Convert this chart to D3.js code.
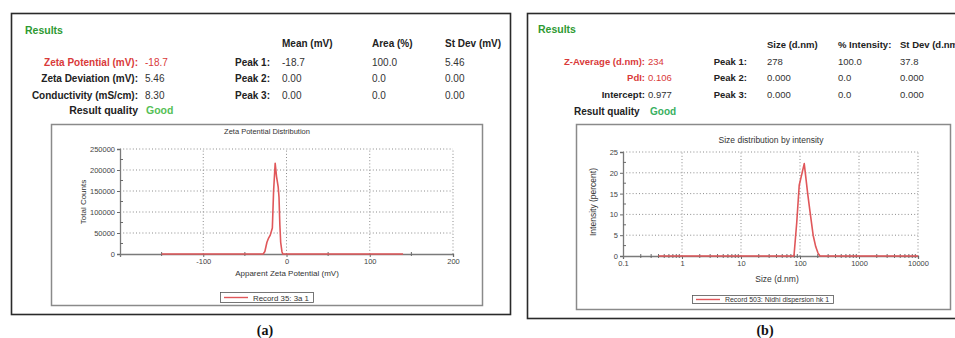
<!DOCTYPE html>
<html>
<head>
<meta charset="utf-8">
<script src="https://cdn.jsdelivr.net/npm/d3@7"></script>
<style>
  body { margin: 0; background: #fff; }
  svg { display: block; font-family: Arial, "Liberation Sans", sans-serif; }
</style>
</head>
<body>
<svg id="fig" width="955" height="338"></svg>
<script>
// zeta potential distribution (panel a)
const zetaMv = [-150, -28, -26, -23.5, -21.5, -19.5, -17, -15.5, -13.6, -12, -10, -9, -8, -7, -5.5, -4.5, 140];
const zetaCounts = [0, 0, 6000, 28000, 38000, 45000, 62000, 150000, 216000, 185000, 160000, 135000, 70000, 28000, 6000, 0, 0];
const zetaTicksX = [-100, 0, 100, 200];
const zetaMinorX = [-150, -50, 50, 150];
const zetaTicksY = [0, 50000, 100000, 150000, 200000, 250000];
const zetaMinorY = [25000, 75000, 125000, 175000, 225000];

// size distribution by intensity (panel b)
const sizeNm = [0.4, 79, 88, 97, 118, 135, 148, 167, 185, 202, 218, 10000];
const sizeIntensity = [0, 0, 8, 17, 22.2, 15, 10.6, 5, 2.2, 0.7, 0, 0];
const sizeTicksX = [0.1, 1, 10, 100, 1000, 10000];
const sizeTicksY = [0, 5, 10, 15, 20, 25];
const sizeMinorY = [2.5, 7.5, 12.5, 17.5, 22.5];

// result tables
const zetaLabels = ["Zeta Potential (mV):", "Zeta Deviation (mV):", "Conductivity (mS/cm):"];
const zetaValues = ["-18.7", "5.46", "8.30"];
const zetaPeakHead = ["Mean (mV)", "Area (%)", "St Dev (mV)"];
const zetaPeaks = [["-18.7", "100.0", "5.46"], ["0.00", "0.0", "0.00"], ["0.00", "0.0", "0.00"]];
const sizeLabels = ["Z-Average (d.nm):", "PdI:", "Intercept:"];
const sizeValues = ["234", "0.106", "0.977"];
const sizePeakHead = ["Size (d.nm)", "% Intensity:", "St Dev (d.nm)"];
const sizePeaks = [["278", "100.0", "37.8"], ["0.000", "0.0", "0.000"], ["0.000", "0.0", "0.000"]];
const peakNames = ["Peak 1:", "Peak 2:", "Peak 3:"];

const svg = d3.select("#fig");
const RED = "#d93a3a", GREEN = "#2e9a32", GOOD = "#55c055", LINE = "#e0575a";

// outer frames
svg.append("rect").attr("x", 11.5).attr("y", 13.5).attr("width", 499).attr("height", 301)
  .attr("fill", "none").attr("stroke", "#2a2a2a").attr("stroke-width", 1.6);
svg.append("rect").attr("x", 527.5).attr("y", 13.5).attr("width", 440).attr("height", 305)
  .attr("fill", "none").attr("stroke", "#2a2a2a").attr("stroke-width", 1.6);

function txt(g, x, y, s, o = {}) {
  return g.append("text").attr("x", x).attr("y", y).text(s)
    .attr("font-size", o.size || 10)
    .attr("font-weight", o.bold ? "bold" : "normal")
    .attr("fill", o.fill || "#222")
    .attr("text-anchor", o.anchor || "start");
}

function table(o) {
  const g = svg.append("g");
  txt(g, o.resX, o.resY, "Results", { bold: true, fill: GREEN, size: 10.5 });
  o.head.forEach((h, i) => txt(g, o.cols[i], o.headY, h, { bold: true, size: o.fs }));
  o.labels.forEach((l, i) => {
    const c = o.red.includes(i) ? RED : "#222";
    txt(g, o.labX, o.rowY[i], l, { bold: true, anchor: "end", fill: c, size: o.fs });
    txt(g, o.valX, o.rowY[i], o.values[i], { fill: o.red.includes(i) ? RED : "#333", size: o.fs });
    txt(g, o.peakX, o.rowY[i], peakNames[i], { bold: true, anchor: "end", size: o.fs });
    o.peaks[i].forEach((v, j) => txt(g, o.cols[j], o.rowY[i], v, { fill: "#333", size: o.fs }));
  });
  txt(g, o.rqX, o.rqY, "Result quality", { bold: true, anchor: o.rqAnchor, size: o.fs + 0.5 });
  txt(g, o.goodX, o.rqY, "Good", { bold: true, fill: o.goodFill, size: o.fs + 0.5 });
}

table({
  resX: 25, resY: 34, headY: 47, cols: [282, 372, 445], head: zetaPeakHead,
  labels: zetaLabels, values: zetaValues, peaks: zetaPeaks, red: [0],
  labX: 138, valX: 145, peakX: 270, rowY: [66, 82, 99], fs: 10,
  rqX: 138, rqY: 114, rqAnchor: "end", goodX: 146, goodFill: GOOD
});
table({
  resX: 538, resY: 33, headY: 48, cols: [767, 838, 900], head: sizePeakHead,
  labels: sizeLabels, values: sizeValues, peaks: sizePeaks, red: [0, 1],
  labX: 645, valX: 648, peakX: 747, rowY: [65, 81, 98], fs: 9.5,
  rqX: 574, rqY: 115, rqAnchor: "start", goodX: 650, goodFill: "#38b060"
});

// chart panel
function chart(o) {
  const g = svg.append("g");
  g.append("rect").attr("x", o.box[0] + 0.5).attr("y", o.box[1] + 0.5)
    .attr("width", o.box[2] - o.box[0]).attr("height", o.box[3] - o.box[1])
    .attr("fill", "#fff").attr("stroke", "#8a8a8a").attr("stroke-width", 1.5);
  txt(g, o.titleX, o.titleY, o.title, { size: o.titleSize, anchor: "middle", fill: "#333" });

  const x = o.x, y = o.y;
  const [x0, x1] = x.range(), [y0, y1] = y.range();

  // dotted grid
  const grid = g.append("g").attr("stroke", "#8c8c8c").attr("stroke-dasharray", "1,2.2").attr("stroke-width", 1);
  o.gridX.forEach(v => grid.append("line").attr("x1", x(v)).attr("x2", x(v)).attr("y1", y0).attr("y2", y1));
  o.ticksY.filter(v => v > 0).forEach(v => grid.append("line").attr("x1", x0).attr("x2", x1).attr("y1", y(v)).attr("y2", y(v)));

  // axes
  const ax = g.append("g").attr("transform", `translate(0,${y0})`)
    .call(d3.axisBottom(x).tickValues(o.ticksX).tickSize(3).tickFormat(o.fmtX).tickPadding(2));
  const ay = g.append("g").attr("transform", `translate(${x0},0)`)
    .call(d3.axisLeft(y).tickValues(o.ticksY).tickSize(3).tickFormat(d => d).tickPadding(2));
  [ax, ay].forEach(a => {
    a.select(".domain").attr("stroke", "#7a7a7a").attr("stroke-width", 1.3);
    a.selectAll(".tick line").attr("stroke", "#6a6a6a");
    a.selectAll("text").attr("font-size", o.tickSize).attr("fill", "#444").attr("font-family", null);
  });
  const minor = g.append("g").attr("stroke", "#6a6a6a");
  o.minorX.forEach(v => minor.append("line").attr("x1", x(v)).attr("x2", x(v)).attr("y1", y0 - 2).attr("y2", y0 + 2));
  o.minorY.forEach(v => minor.append("line").attr("x1", x0).attr("x2", x0 + 3).attr("y1", y(v)).attr("y2", y(v)));

  // data line
  g.append("path").datum(o.xs.map((v, i) => [v, o.ys[i]]))
    .attr("d", d3.line().x(d => x(d[0])).y(d => y(d[1])))
    .attr("fill", "none").attr("stroke", LINE).attr("stroke-width", 1.6).attr("stroke-linejoin", "round");

  txt(g, o.xTitle[1], o.xTitle[2], o.xTitle[0], { size: o.labSize, anchor: "middle", fill: "#333" });
  txt(g, 0, 0, o.yTitle[0], { size: o.labSize, anchor: "middle", fill: "#333" })
    .attr("transform", `translate(${o.yTitle[1]},${o.yTitle[2]}) rotate(-90)`);

  // legend
  const [lx0, ly0, lx1, ly1] = o.leg;
  g.append("rect").attr("x", lx0 + 0.5).attr("y", ly0 + 0.5).attr("width", lx1 - lx0).attr("height", ly1 - ly0)
    .attr("fill", "#fff").attr("stroke", "#555").attr("stroke-width", 0.8);
  g.append("line").attr("x1", lx0 + 4).attr("x2", lx0 + 28).attr("y1", (ly0 + ly1) / 2 + 0.5).attr("y2", (ly0 + ly1) / 2 + 0.5)
    .attr("stroke", LINE).attr("stroke-width", 1.4);
  txt(g, lx0 + 33, ly1 - 1.5, o.legText, { size: o.legSize, fill: "#333" })
    .attr("textLength", lx1 - lx0 - 37).attr("lengthAdjust", "spacingAndGlyphs");
}

chart({
  box: [51, 124, 482, 305], title: "Zeta Potential Distribution", titleX: 267, titleY: 134, titleSize: 7.5,
  x: d3.scaleLinear().domain([-200, 200]).range([120, 453]),
  y: d3.scaleLinear().domain([0, 250000]).range([254, 149]),
  gridX: zetaTicksX, ticksX: zetaTicksX, ticksY: zetaTicksY, minorX: zetaMinorX, minorY: zetaMinorY,
  fmtX: d => d, tickSize: 7.5, labSize: 8,
  xs: zetaMv, ys: zetaCounts,
  xTitle: ["Apparent Zeta Potential (mV)", 287, 276], yTitle: ["Total Counts", 86, 202],
  leg: [220, 292, 313, 302], legText: "Record 35: 3a 1", legSize: 7.5
});

const logMinor = [];
sizeTicksX.slice(0, -1).forEach(d => { for (let k = 2; k <= 9; k++) logMinor.push(d * k); });

chart({
  box: [576, 124, 950, 309], title: "Size distribution by intensity", titleX: 771, titleY: 143, titleSize: 8.5,
  x: d3.scaleLog().domain([0.1, 10000]).range([623, 918]),
  y: d3.scaleLinear().domain([0, 25]).range([256, 152]),
  gridX: sizeTicksX.slice(1), ticksX: sizeTicksX, ticksY: sizeTicksY, minorX: logMinor, minorY: sizeMinorY,
  fmtX: d => d, tickSize: 7.5, labSize: 8.5,
  xs: sizeNm, ys: sizeIntensity,
  xTitle: ["Size (d.nm)", 777, 282], yTitle: ["Intensity (percent)", 596, 202],
  leg: [692, 295, 833, 303], legText: "Record 503: Nidhi dispersion hk 1", legSize: 7
});

// panel captions
svg.append("text").attr("x", 265).attr("y", 335).attr("text-anchor", "middle")
  .attr("font-family", "'Liberation Serif', 'Times New Roman', serif").attr("font-weight", "bold")
  .attr("font-size", 14).attr("fill", "#111").text("(a)");
svg.append("text").attr("x", 765).attr("y", 335).attr("text-anchor", "middle")
  .attr("font-family", "'Liberation Serif', 'Times New Roman', serif").attr("font-weight", "bold")
  .attr("font-size", 14).attr("fill", "#111").text("(b)");
</script>
</body>
</html>
